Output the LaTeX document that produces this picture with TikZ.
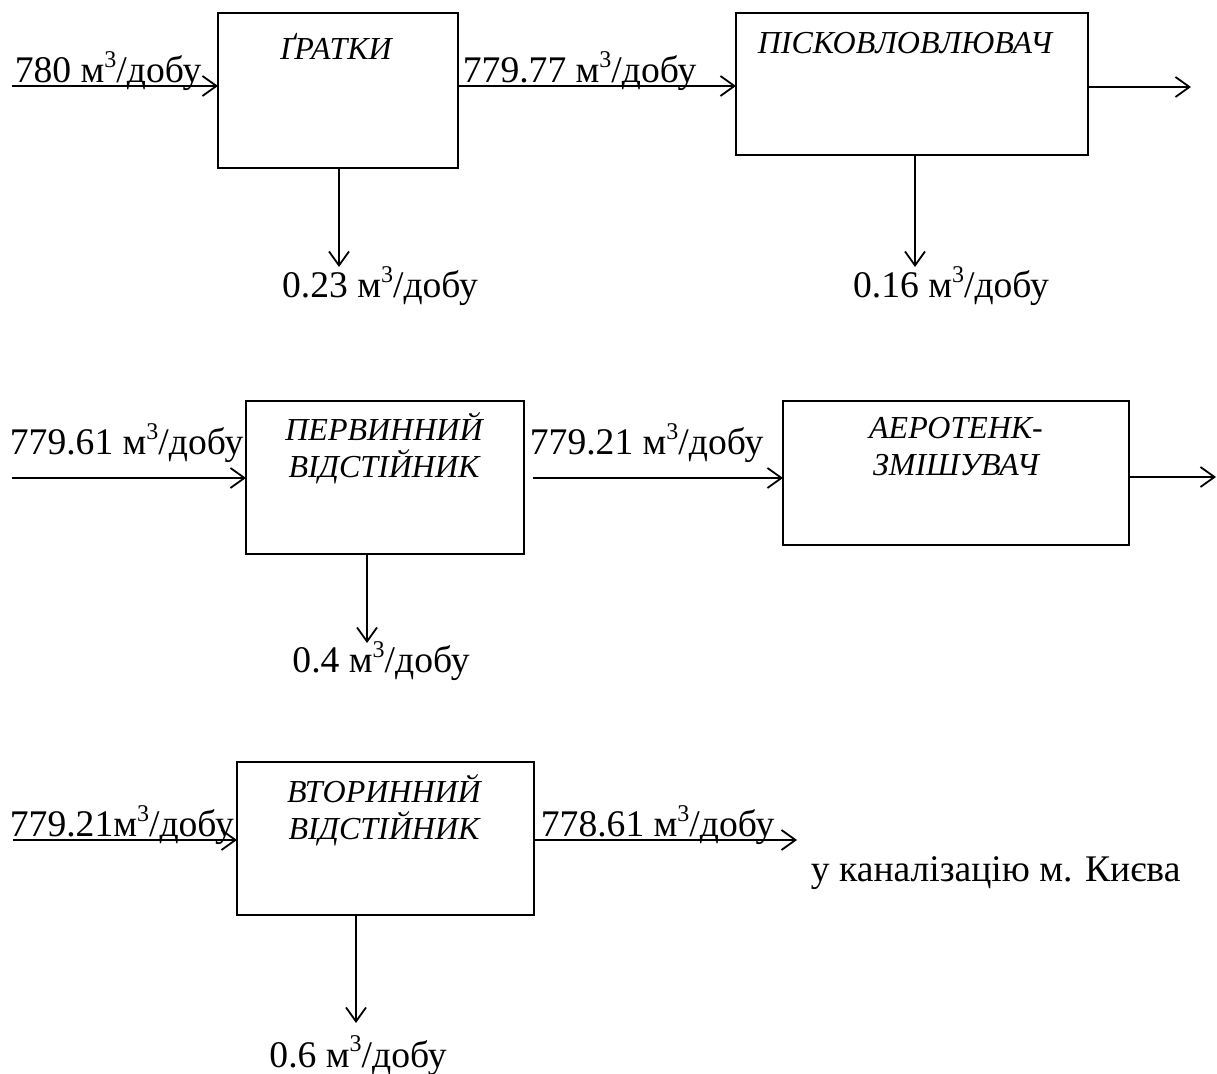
\documentclass[tikz,border=0pt]{standalone}
\usepackage{fontspec}
\setmainfont{Liberation Serif}
\usepackage{tikz}
\usetikzlibrary{positioning,arrows.meta}
\newcommand{\kub}{\raisebox{0.42em}{\fontsize{12}{12}\selectfont 3}}

\begin{document}
\begin{tikzpicture}[x=0.5pt, y=-0.5pt, line width=0.9pt,
    unit/.style={draw, line width=0.7pt, inner sep=0pt, outer sep=0pt},
    unitname/.style={font=\fontsize{16}{18.5}\selectfont\itshape, align=center, anchor=north, inner sep=0pt},
    rate/.style={font=\fontsize{18.8}{22}\selectfont, inner sep=0pt},
    arr/.style={-{Straight Barb[length=7pt,width=10pt]}}]
    \useasboundingbox (0,0) rectangle (1217,1074);

    % units
    \node[unit, minimum width=120pt, minimum height=77.5pt] (g)  at (338,90.5)  {};
    \node[unit, minimum width=176pt, minimum height=71pt]   (p)  at (912,84)    {};
    \node[unit, minimum width=139pt, minimum height=76.5pt] (pv) at (385,477.5) {};
    \node[unit, minimum width=173pt, minimum height=72pt]   (a)  at (956,473)   {};
    \node[unit, minimum width=148.5pt, minimum height=76.5pt] (vv) at (385.5,838.5) {};

    % unit names
    \node[unitname] (gt)  at (336,32)  {ҐРАТКИ};
    \node[unitname] (pt)  at (905,31)  {ПІСКОВЛОВЛЮВАЧ};
    \node[unitname] (pvt) at (384,412) {ПЕРВИННИЙ\\ВІДСТІЙНИК};
    \node[unitname] (at)  at (956,416) {АЕРОТЕНК-\\ЗМІШУВАЧ};
    \node[unitname] (vvt) at (384,774) {ВТОРИННИЙ\\ВІДСТІЙНИК};

    % free ends
    \coordinate (in1) at (12,86);
    \coordinate (o1)  at (1191,87);
    \coordinate (d1)  at (339,267);
    \coordinate (d2)  at (915,267);
    \coordinate (in2) at (12,478);
    \coordinate (s2)  at (533,478);
    \coordinate (o2)  at (1216,477);
    \coordinate (d3)  at (367,643);
    \coordinate (in3) at (13,840);
    \coordinate (o3)  at (797,840);
    \coordinate (d4)  at (356,1023);

    % flow rates
    \node[rate, anchor=base west] (r1) at (14,83)  {780 м\kub/добу};
    \node[rate, anchor=base west] (r2) at (462,83) {779.77 м\kub/добу};
    \node[rate, anchor=base west] (r3) at (9,455)  {779.61 м\kub/добу};
    \node[rate, anchor=base west] (r4) at (529,455) {779.21 м\kub/добу};
    \node[rate, anchor=base west] (r5) at (9,837)  {779.21м\kub/добу};
    \node[rate, anchor=base west] (r6) at (540,837) {778.61 м\kub/добу};
    \node[rate, anchor=base west] (kyiv) at (810,882) {у каналізацію м. Києва};

    \node[rate, anchor=base] (w1) at (380,298)  {0.23 м\kub/добу};
    \node[rate, anchor=base] (w2) at (951,298)  {0.16 м\kub/добу};
    \node[rate, anchor=base] (w3) at (381,673)  {0.4 м\kub/добу};
    \node[rate, anchor=base] (w4) at (358,1067) {0.6 м\kub/добу};

    % first row
    \draw[arr] (in1) -- (in1 -| g.west);
    \draw[arr] (g.east |- in1) -- (p.west |- in1);
    \draw[arr] (p.east |- o1) -- (o1);
    \draw[arr] (d1 |- g.south) -- (d1);
    \draw[arr] (d2 |- p.south) -- (d2);

    % second row
    \draw[arr] (in2) -- (in2 -| pv.west);
    \draw[arr] (s2) -- (s2 -| a.west);
    \draw[arr] (a.east |- o2) -- (o2);
    \draw[arr] (d3 |- pv.south) -- (d3);

    % third row
    \draw[arr] (in3) -- (in3 -| vv.west);
    \draw[arr] (vv.east |- o3) -- (o3);
    \draw[arr] (d4 |- vv.south) -- (d4);
\end{tikzpicture}
\end{document}
